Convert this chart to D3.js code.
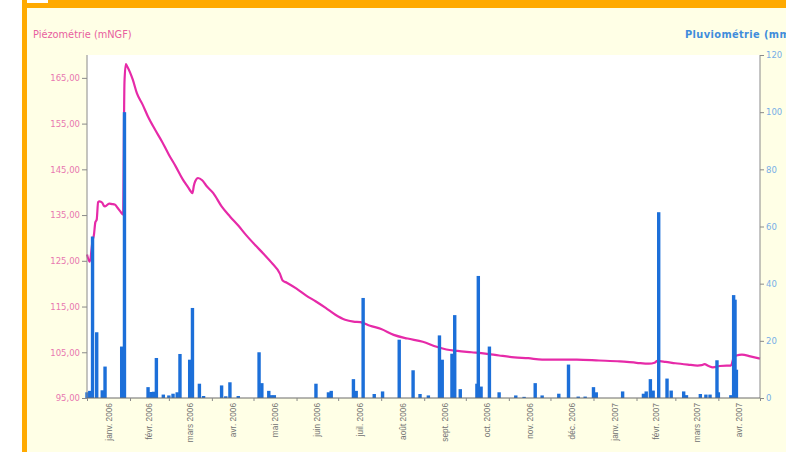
<!DOCTYPE html>
<html><head><meta charset="utf-8">
<script src="https://cdn.jsdelivr.net/npm/d3@7"></script>
<style>
html,body{margin:0;padding:0;background:#fff;overflow:hidden}
svg{display:block}
</style></head>
<body>
<svg id="c" width="786" height="452"></svg>
<script>
// ---------- data ----------
const piezoDates = ["2006-01-01","2006-01-03","2006-01-05","2006-01-06","2006-01-07","2006-01-08","2006-01-09","2006-01-10","2006-01-12","2006-01-13","2006-01-14","2006-01-17","2006-01-19","2006-01-21","2006-01-23","2006-01-25","2006-01-27","2006-01-28","2006-01-29","2006-01-30","2006-02-01","2006-02-03","2006-02-06","2006-02-10","2006-02-14","2006-02-19","2006-02-24","2006-03-01","2006-03-06","2006-03-11","2006-03-15","2006-03-17","2006-03-18","2006-03-19","2006-03-20","2006-03-22","2006-03-25","2006-03-28","2006-04-02","2006-04-08","2006-04-14","2006-04-20","2006-04-26","2006-05-02","2006-05-08","2006-05-14","2006-05-20","2006-05-22","2006-05-25","2006-06-01","2006-06-08","2006-06-15","2006-06-22","2006-06-29","2006-07-06","2006-07-12","2006-07-17","2006-07-24","2006-08-01","2006-08-10","2006-08-20","2006-08-31","2006-09-10","2006-09-17","2006-09-25","2006-10-05","2006-10-15","2006-10-25","2006-11-05","2006-11-15","2006-11-25","2006-12-05","2006-12-20","2007-01-05","2007-01-20","2007-02-01","2007-02-10","2007-02-14","2007-02-16","2007-02-22","2007-03-01","2007-03-10","2007-03-17","2007-03-20","2007-03-22","2007-03-25","2007-03-28","2007-04-02","2007-04-07","2007-04-10","2007-04-12","2007-04-14","2007-04-18","2007-04-24","2007-05-01"];
const piezoValues = [126.4,124.8,129.4,130.7,133.4,134.0,137.8,138.0,137.7,137.1,136.9,137.5,137.4,137.3,136.6,135.8,135.1,164.0,168.0,167.5,166.2,164.6,161.6,159.2,156.5,153.7,151.1,148.2,145.6,142.8,141.0,140.1,139.8,141.4,142.4,143.1,142.6,141.4,139.8,136.9,134.7,132.7,130.5,128.5,126.6,124.6,122.2,120.7,120.2,118.9,117.4,116.1,114.7,113.2,112.1,111.7,111.6,110.8,110.1,108.8,108.0,107.3,106.2,105.6,105.3,105.0,104.7,104.3,103.9,103.7,103.4,103.4,103.4,103.2,103.0,102.7,102.5,102.7,103.1,102.9,102.6,102.3,102.1,102.2,102.4,102.0,101.7,102.0,102.1,102.1,103.8,104.3,104.5,104.1,103.6];

const rainDates = ["2006-01-01","2006-01-03","2006-01-05","2006-01-08","2006-01-12","2006-01-14","2006-01-26","2006-01-28","2006-02-14","2006-02-16","2006-02-18","2006-02-20","2006-02-25","2006-03-01","2006-03-04","2006-03-07","2006-03-09","2006-03-16","2006-03-17","2006-03-18","2006-03-23","2006-03-26","2006-04-08","2006-04-11","2006-04-14","2006-04-20","2006-05-05","2006-05-07","2006-05-12","2006-05-14","2006-05-16","2006-06-15","2006-06-24","2006-06-26","2006-07-12","2006-07-14","2006-07-19","2006-07-27","2006-08-02","2006-08-14","2006-08-24","2006-08-29","2006-09-04","2006-09-12","2006-09-14","2006-09-21","2006-09-23","2006-09-27","2006-10-09","2006-10-10","2006-10-12","2006-10-18","2006-10-25","2006-11-06","2006-11-12","2006-11-20","2006-11-25","2006-12-07","2006-12-14","2006-12-21","2006-12-26","2007-01-01","2007-01-03","2007-01-22","2007-02-06","2007-02-08","2007-02-11","2007-02-13","2007-02-17","2007-02-23","2007-02-26","2007-03-07","2007-03-09","2007-03-19","2007-03-23","2007-03-26","2007-03-31","2007-04-01","2007-04-10","2007-04-12","2007-04-13","2007-04-14"];
const rainValues = [2,2.5,56.5,23,2.7,11,18,100,3.8,2.1,2.2,14,1.2,0.9,1.5,2,15.4,13.4,2.5,31.5,5,0.7,4.4,0.6,5.5,0.7,16,5.2,2.5,1,1,5,2,2.5,6.6,2.5,35,1.4,2.3,20.4,9.7,1.4,0.9,21.9,13.4,15.5,29,3.1,5,42.7,4,18,2,0.9,0.4,5.2,0.9,1.5,11.7,0.5,0.5,3.8,2,2.3,1.5,2.3,6.6,2.6,65,6.8,2.6,2.3,1,1.4,1.2,1.2,13.2,2,1,36,34.4,9.9];

const monthLabels = ["janv. 2006","févr. 2006","mars 2006","avr. 2006","mai 2006","juin 2006","juil. 2006","août 2006","sept. 2006","oct. 2006","nov. 2006","déc. 2006","janv. 2007","févr. 2007","mars 2007","avr. 2007"];
const leftTicks = [95,105,115,125,135,145,155,165];
const rightTicks = [0,20,40,60,80,100,120];
const leftTitle = "Piézométrie (mNGF)";
const rightTitle = "Pluviométrie (mm)";

// ---------- drawing ----------
const svg = d3.select("#c");
const parse = d3.timeParse("%Y-%m-%d");
const W = 786, H = 452;
const plot = {l: 87, r: 760, t: 55, b: 398};

// frame
svg.append("rect").attr("x",0).attr("y",0).attr("width",W).attr("height",H).attr("fill","#ffffff");
svg.append("rect").attr("x",22).attr("y",0).attr("width",W-22).attr("height",H).attr("fill","#ffffe6");
svg.append("rect").attr("x",22).attr("y",0).attr("width",W-22).attr("height",8).attr("fill","#ffaa00");
svg.append("rect").attr("x",22).attr("y",0).attr("width",5).attr("height",H).attr("fill","#ffaa00");
svg.append("rect").attr("x",27).attr("y",0).attr("width",21).attr("height",3).attr("fill","#ffffff");
svg.append("rect").attr("x",plot.l).attr("y",plot.t).attr("width",plot.r-plot.l).attr("height",plot.b-plot.t).attr("fill","#ffffff");

const x = d3.scaleTime().domain([new Date(2006,0,1), new Date(2007,4,1)]).range([plot.l, plot.r]);
const yL = d3.scaleLinear().domain([95,170]).range([plot.b, plot.t]);
const yR = d3.scaleLinear().domain([0,120]).range([plot.b, plot.t]);

// line (drawn under bars)
const pts = piezoDates.map((d,i)=>({d:parse(d), v:piezoValues[i]}));
svg.append("path").datum(pts)
  .attr("fill","none").attr("stroke","#e62aa8").attr("stroke-width",2.2)
  .attr("stroke-linejoin","round")
  .attr("d", d3.line().x(p=>x(p.d)).y(p=>yL(p.v)).curve(d3.curveMonotoneX));

// bars
const bars = rainDates.map((d,i)=>({d:parse(d), v:rainValues[i]}));
const bw = 3.4;
svg.append("g").selectAll("rect").data(bars).join("rect")
  .attr("x", b=>x(b.d)-bw/2).attr("width", bw)
  .attr("y", b=>yR(b.v)).attr("height", b=>plot.b-yR(b.v))
  .attr("fill","#1c6fd9");

// left axis
const gL = svg.append("g").attr("transform",`translate(${plot.l},0)`)
  .call(d3.axisLeft(yL).tickValues(leftTicks).tickSize(5).tickPadding(2)
        .tickFormat(v=>d3.format(".2f")(v).replace(".",",")));
gL.select(".domain").attr("stroke","#8a8a8a").attr("d",`M0,${plot.t}V${plot.b}`);
gL.selectAll(".tick line").attr("stroke","#8a8a8a");
gL.selectAll("text").attr("fill","#e878b0").style("font-family","DejaVu Sans").style("font-size","8.5px");

// right axis
const gR = svg.append("g").attr("transform",`translate(${plot.r},0)`)
  .call(d3.axisRight(yR).tickValues(rightTicks).tickSize(4).tickPadding(2));
gR.select(".domain").attr("stroke","#8a8a8a").attr("d",`M0,${plot.t}V${plot.b}`);
gR.selectAll(".tick line").attr("stroke","#8a8a8a");
gR.selectAll("text").attr("fill","#78aee6").style("font-family","DejaVu Sans").style("font-size","8.5px");

// bottom axis: month boundary ticks
const monthStarts = d3.timeMonth.range(new Date(2006,0,1), new Date(2007,4,2));
const gB = svg.append("g").attr("transform",`translate(0,${plot.b})`)
  .call(d3.axisBottom(x).tickValues(monthStarts).tickSize(3).tickFormat(""));
gB.select(".domain").attr("stroke","#6a6a6a").attr("d",`M${plot.l},0H${plot.r}`);
gB.selectAll(".tick line").attr("stroke","#8a8a8a");

// month labels centred in each month, rotated
const mids = monthStarts.slice(0,-1).map((m,i)=>({
  x:(x(m)+x(monthStarts[i+1]))/2, label: monthLabels[i]}));
svg.append("g").selectAll("text").data(mids).join("text")
  .attr("transform", m=>`translate(${m.x+3},${plot.b+5}) rotate(-90)`)
  .attr("text-anchor","end")
  .attr("fill","#707070")
  .style("font-family","Liberation Sans, Arial").style("font-size","8.3px")
  .text(m=>m.label);

// axis titles
svg.append("text").attr("x",33).attr("y",38).attr("fill","#e8609f")
  .style("font-family","DejaVu Sans").style("font-size","9.8px").text(leftTitle);
svg.append("text").attr("x",685).attr("y",38).attr("fill","#3f8ddc")
  .style("font-family","DejaVu Sans").style("font-size","9.8px").style("font-weight","bold")
  .style("letter-spacing","0.4px").text(rightTitle);
</script>
</body></html>
